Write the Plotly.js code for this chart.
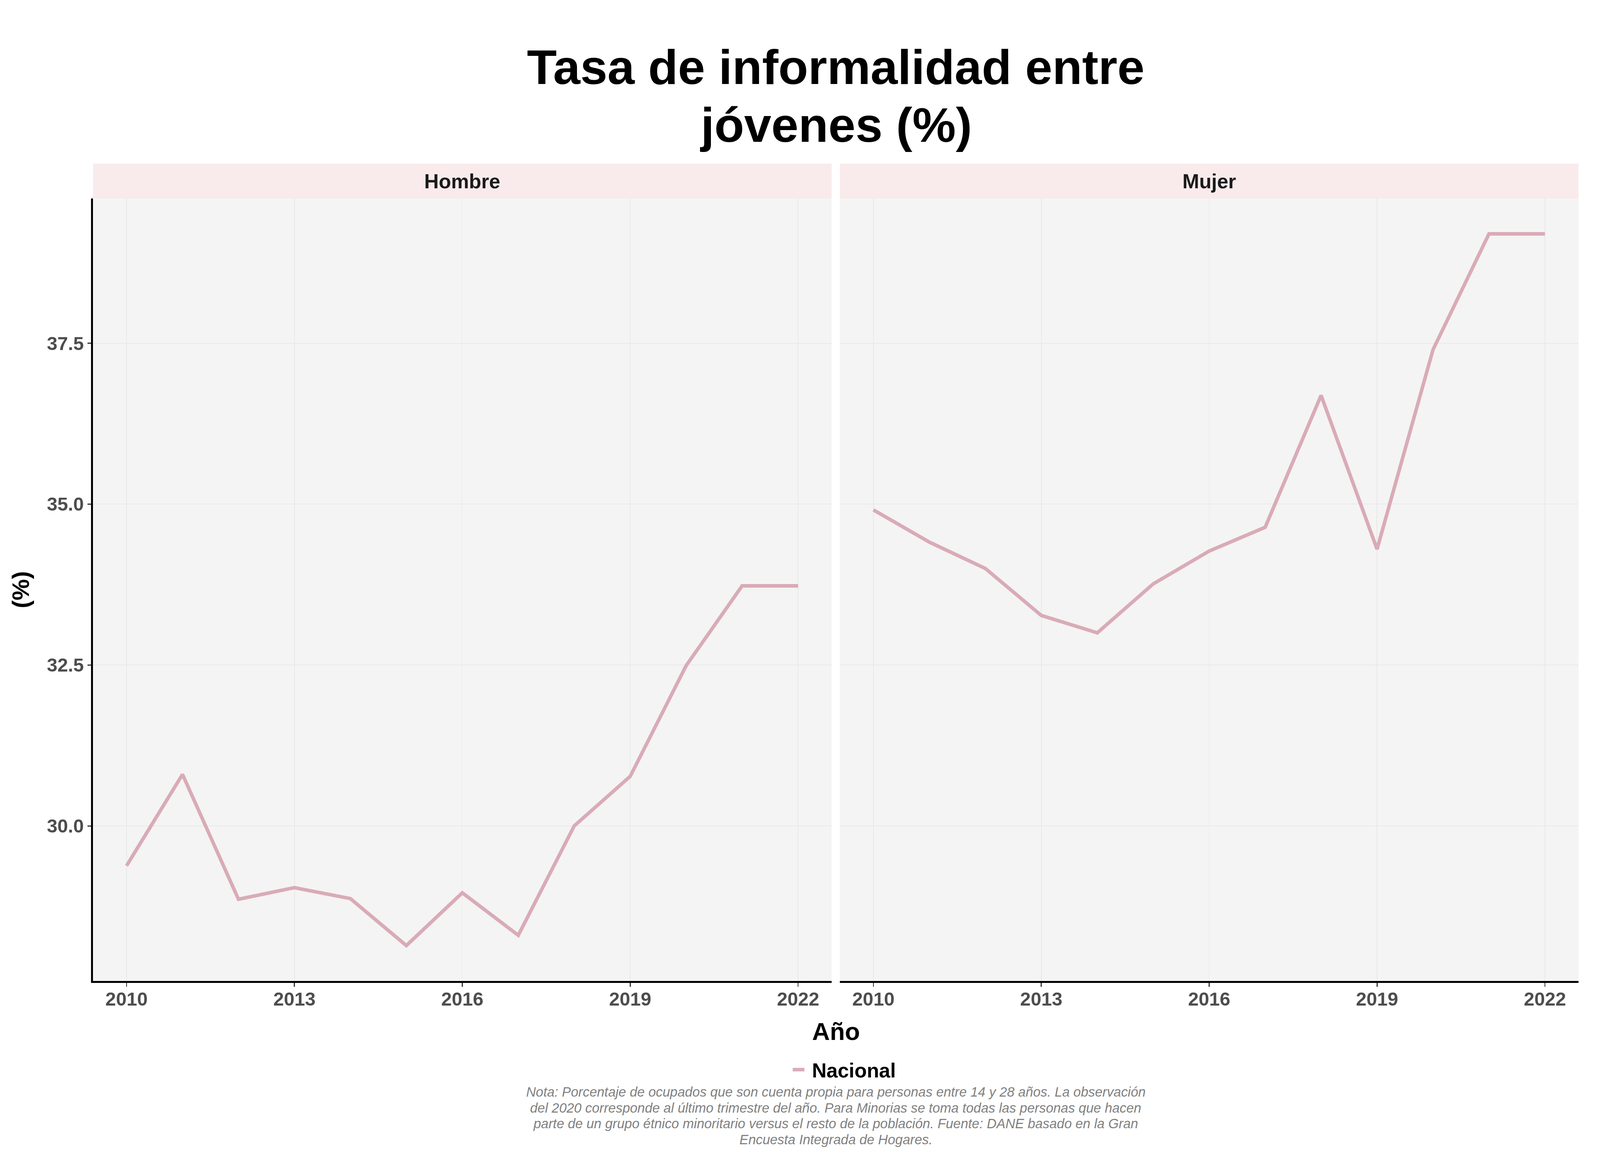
<!DOCTYPE html>
<html>
<head>
<meta charset="utf-8">
<script src="https://cdn.plot.ly/plotly-3.0.1.min.js"></script>
<style>html,body{margin:0;padding:0;background:#fff;overflow:hidden;}</style>
</head>
<body>
<div id="chart"></div>
<script>
const years = [2010, 2011, 2012, 2013, 2014, 2015, 2016, 2017, 2018, 2019, 2020, 2021, 2022];
const hombre = [29.38, 30.80, 28.86, 29.04, 28.87, 28.14, 28.96, 28.30, 30.0, 30.77, 32.49, 33.73, 33.73];
const mujer = [34.91, 34.41, 34.0, 33.27, 33.0, 33.76, 34.27, 34.64, 36.69, 34.30, 37.40, 39.20, 39.20];
const panels = ["Hombre", "Mujer"];
const seriesName = "Nacional";
const xTicks = [2010, 2013, 2016, 2019, 2022];
const yTicks = [30.0, 32.5, 35.0, 37.5];
const yTickLabels = ["30.0", "32.5", "35.0", "37.5"];
const titleLines = ["Tasa de informalidad entre", "jóvenes (%)"];
const xTitle = "Año";
const yTitle = "(%)";
const noteLines = [
  "Nota: Porcentaje de ocupados que son cuenta propia para personas entre 14 y 28 años. La observación",
  "del 2020 corresponde al último trimestre del año. Para Minorias se toma todas las personas que hacen",
  "parte de un grupo étnico minoritario versus el resto de la población. Fuente: DANE basado en la Gran",
  "Encuesta Integrada de Hogares."
];

const lineColor = "#d9abb7";
const FONT = "Liberation Sans, Arial, Helvetica, sans-serif";

// Design coordinates are 4500x3000; map onto the real viewport.
const vw = window.innerWidth || 4500, vh = window.innerHeight || 3000;
const sx = vw / 4500, sy = vh / 3000, sf = Math.sqrt(sx * sy);
const X = v => v * sx, Y = v => v * sy, F = v => v * sf;
const W = vw, H = vh;
const el = document.getElementById("chart");
el.style.width = W + "px";
el.style.height = H + "px";

const traces = [
  {x: years, y: hombre, xaxis: "x", yaxis: "y", mode: "lines", name: "\u00a0" + seriesName,
   line: {color: lineColor, width: F(9.5)}, showlegend: true, legendgroup: "n"},
  {x: years, y: mujer, xaxis: "x2", yaxis: "y2", mode: "lines", name: seriesName,
   line: {color: lineColor, width: F(9.5)}, showlegend: false, legendgroup: "n"}
];

const mL = 261, mR = 60, mT = 508, mB = 489;
const plotW = 4500 - mL - mR, plotH = 3000 - mT - mB;
const gapFrac = 23 / plotW;
const d1 = [0, 0.5 - gapFrac / 2];
const d2 = [0.5 + gapFrac / 2, 1];
const stripTop = 1 + 89 / plotH;
const yPaper = yPix => (3000 - mB - yPix) / plotH;

const xCommon = {
  range: [2009.4, 2022.6], tickmode: "array", tickvals: xTicks,
  ticks: "outside", ticklen: Y(10), tickwidth: X(3), tickcolor: "#333333",
  ticklabelstandoff: -Y(10),
  tickfont: {family: FONT, size: F(51), color: "#4d4d4d", weight: "bold"},
  showgrid: true, gridcolor: "#e9e9e9", gridwidth: X(2),
  showline: true, linecolor: "#000000", linewidth: Y(5), zeroline: false,
  fixedrange: true
};
const yCommon = {
  range: [27.59, 39.75], tickmode: "array", tickvals: yTicks, ticktext: yTickLabels,
  showgrid: true, gridcolor: "#e9e9e9", gridwidth: Y(2), zeroline: false,
  tickfont: {family: FONT, size: F(51), color: "#4d4d4d", weight: "bold"},
  fixedrange: true
};

const shapes = [];
const annotations = [];
[d1, d2].forEach((d, i) => {
  shapes.push({type: "rect", xref: "paper", yref: "paper", x0: d[0], x1: d[1], y0: 1, y1: stripTop,
    fillcolor: "#f9ebeb", line: {width: 0}, layer: "below"});
  annotations.push({xref: "paper", yref: "paper", x: (d[0] + d[1]) / 2, y: (1 + stripTop) / 2,
    text: panels[i], showarrow: false, xanchor: "center", yanchor: "middle",
    font: {family: FONT, size: F(54), color: "#1a1a1a", weight: "bold"}});
});
// second title line
annotations.push({xref: "paper", yref: "paper", x: 0.5, y: yPaper(320),
  text: titleLines[1], showarrow: false, xanchor: "center", yanchor: "middle",
  font: {family: FONT, size: F(131), color: "#000000", weight: "bold"}});
annotations.push({xref: "paper", yref: "paper", x: 0.5, y: yPaper(2640),
  text: xTitle, showarrow: false, xanchor: "center", yanchor: "middle",
  font: {family: FONT, size: F(66), color: "#000000", weight: "bold"}});
noteLines.forEach((t, i) => {
  annotations.push({xref: "paper", yref: "paper", x: 0.5, y: yPaper(2795 + i * 40.5),
    text: t, showarrow: false, xanchor: "center", yanchor: "middle", align: "center",
    font: {family: FONT, size: F(36), color: "#808080", style: "italic"}});
});

const layout = {
  width: W, height: H,
  margin: {l: X(mL), r: X(mR), t: Y(mT), b: Y(mB), pad: 0},
  paper_bgcolor: "#ffffff", plot_bgcolor: "#f4f4f4",
  title: {text: titleLines[0], x: 0.5, xref: "paper", xanchor: "center",
    y: 1 - 171 / 3000, yref: "container", yanchor: "middle",
    font: {family: FONT, size: F(131), color: "#000000", weight: "bold"}},
  xaxis: Object.assign({}, xCommon, {domain: d1, anchor: "y"}),
  xaxis2: Object.assign({}, xCommon, {domain: d2, anchor: "y2"}),
  yaxis: Object.assign({}, yCommon, {domain: [0, 1], anchor: "x",
    ticks: "outside", ticklen: X(10), tickwidth: Y(3), tickcolor: "#333333",
    showline: true, linecolor: "#000000", linewidth: X(5),
    title: {text: yTitle, standoff: X(29), font: {family: FONT, size: F(64), color: "#000000", weight: "bold"}}}),
  yaxis2: Object.assign({}, yCommon, {domain: [0, 1], anchor: "x2", showticklabels: false, ticks: "", showline: false}),
  showlegend: true,
  legend: {orientation: "h", x: 0.5 + 24 / plotW, xanchor: "center", y: yPaper(2738), yanchor: "middle",
    xref: "paper", yref: "paper", itemwidth: 30, bgcolor: "rgba(0,0,0,0)",
    font: {family: FONT, size: F(54), color: "#000000", weight: "bold"}},
  shapes: shapes,
  annotations: annotations
};

Plotly.newPlot("chart", traces, layout, {staticPlot: true, displayModeBar: false});
</script>
</body>
</html>
